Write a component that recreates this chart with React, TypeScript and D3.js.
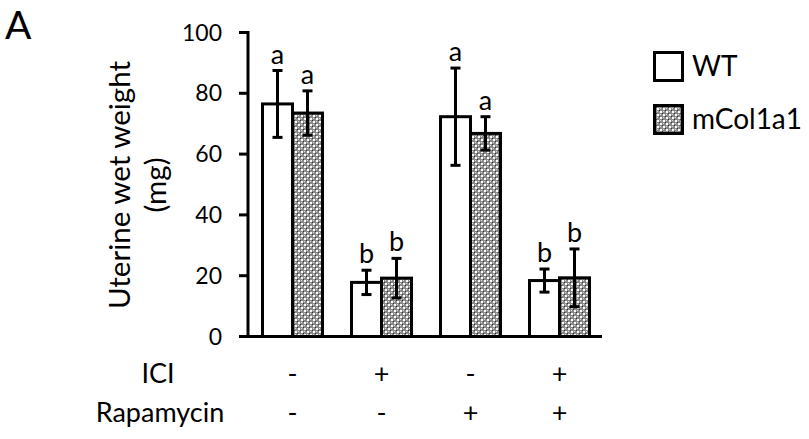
import React from 'react';
import * as d3 from 'd3';

const groups = ['g1', 'g2', 'g3', 'g4'];
const series = ['WT', 'mCol1a1'];
const wtMeans = [76.5, 17.8, 72.3, 18.4];
const wtErrors = [11, 4, 16, 3.8];
const mcolMeans = [73.5, 19.2, 66.8, 19.3];
const mcolErrors = [7.3, 6.5, 5.5, 9.5];
const wtLetters = ['a', 'b', 'a', 'b'];
const mcolLetters = ['a', 'b', 'a', 'b'];
const iciRow = ['-', '+', '-', '+'];
const rapaRow = ['-', '-', '+', '+'];
const yTicks = [0, 20, 40, 60, 80, 100];

const FONT = 'Lato, "Open Sans", sans-serif';

export default function App() {
  const width = 809;
  const height = 439;

  const x = d3.scaleBand<string>().domain(groups).range([248, 604]);
  const y = d3.scaleLinear().domain([0, 100]).range([336.5, 32.5]);
  const barW = 30;

  const data = groups.map((g, i) => ({
    g,
    bars: [
      { key: 'WT', mean: wtMeans[i], err: wtErrors[i], letter: wtLetters[i], fill: '#fff' },
      { key: 'mCol1a1', mean: mcolMeans[i], err: mcolErrors[i], letter: mcolLetters[i], fill: 'url(#grid)' },
    ],
  }));

  return (
    <svg width={width} height={height} style={{ position: 'absolute', left: 0, top: 0, background: '#fff' }}>
      <defs>
        <pattern id="grid" width="6" height="6" patternUnits="userSpaceOnUse">
          <rect width="6" height="6" fill="#8a8a8a" />
          <rect x="1" y="1" width="2" height="2" fill="#fff" />
          <rect x="4" y="4" width="2" height="2" fill="#fff" />
          <rect x="0" y="0" width="1" height="1" fill="#333" />
          <rect x="3" y="3" width="1" height="1" fill="#333" />
          <rect x="1" y="4" width="1" height="1" fill="#ddd" />
          <rect x="4" y="1" width="1" height="1" fill="#ddd" />
        </pattern>
      </defs>

      <text x={5} y={39} fontFamily={FONT} fontSize={39}>A</text>

      {/* y axis */}
      <line x1={248} x2={248} y1={y(100) - 1.5} y2={y(0)} stroke="#000" strokeWidth={3} />
      {yTicks.map(t => (
        <g key={t}>
          <line x1={239} x2={248} y1={y(t)} y2={y(t)} stroke="#000" strokeWidth={3} />
          <text x={222} y={y(t)} dy="0.35em" textAnchor="end" fontFamily={FONT} fontSize={23}>{t}</text>
        </g>
      ))}
      <text transform={`translate(130,185) rotate(-90)`} textAnchor="middle" fontFamily={FONT} fontSize={29.5}>
        Uterine wet weight
      </text>
      <text transform={`translate(166,185) rotate(-90)`} textAnchor="middle" fontFamily={FONT} fontSize={29.5}>
        (mg)
      </text>

      {/* bars */}
      {data.map(d => {
        const cx = (x(d.g) as number) + x.bandwidth() / 2;
        return (
          <g key={d.g}>
            {d.bars.map((b, j) => {
              const left = j === 0 ? cx - barW : cx;
              const mid = left + barW / 2;
              const top = y(b.mean + b.err);
              const bot = y(b.mean - b.err);
              return (
                <g key={b.key}>
                  <rect x={left} y={y(b.mean)} width={barW} height={y(0) - y(b.mean)} fill={b.fill} stroke="#000" strokeWidth={3} />
                  <line x1={mid} x2={mid} y1={top} y2={bot} stroke="#000" strokeWidth={3} />
                  <line x1={mid - 5} x2={mid + 5} y1={top} y2={top} stroke="#000" strokeWidth={3} />
                  <line x1={mid - 5} x2={mid + 5} y1={bot} y2={bot} stroke="#000" strokeWidth={3} />
                  <text x={mid} y={top - 7} textAnchor="middle" fontFamily={FONT} fontSize={27}>{b.letter}</text>
                </g>
              );
            })}
          </g>
        );
      })}

      {/* x axis */}
      <line x1={246.5} x2={602} y1={y(0)} y2={y(0)} stroke="#000" strokeWidth={3} />

      {/* treatment rows */}
      <text x={158} y={383} textAnchor="middle" fontFamily={FONT} fontSize={27}>ICI</text>
      <text x={160} y={422} textAnchor="middle" fontFamily={FONT} fontSize={27}>Rapamycin</text>
      {groups.map((g, i) => {
        const cx = (x(g) as number) + x.bandwidth() / 2;
        return (
          <g key={g}>
            <text x={cx} y={383} textAnchor="middle" fontFamily={FONT} fontSize={27}>{iciRow[i]}</text>
            <text x={cx} y={422} textAnchor="middle" fontFamily={FONT} fontSize={27}>{rapaRow[i]}</text>
          </g>
        );
      })}

      {/* legend */}
      {series.map((s, i) => (
        <g key={s} transform={`translate(653,${51 + i * 53})`}>
          <rect x={1.5} y={1.5} width={28} height={28} fill={i === 0 ? '#fff' : 'url(#grid)'} stroke="#000" strokeWidth={3} />
          <text x={39} y={25} fontFamily={FONT} fontSize={28}>{s}</text>
        </g>
      ))}
    </svg>
  );
}
